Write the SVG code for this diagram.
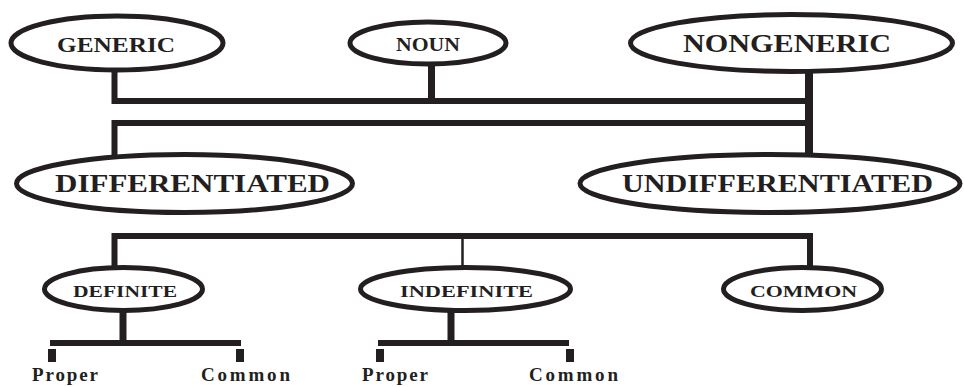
<svg xmlns="http://www.w3.org/2000/svg" width="964" height="387" viewBox="0 0 964 387">
<style>
.n{fill:#fff;stroke:#231f20;stroke-width:5}
.t{font-family:"Liberation Serif","Times New Roman",serif;font-weight:bold;fill:#231f20;text-anchor:middle}
.s{font-family:"Liberation Serif","Times New Roman",serif;font-weight:bold;fill:#231f20;font-size:19px}
.c{fill:none;stroke:#231f20;stroke-linejoin:miter;stroke-linecap:butt}
.k{fill:#231f20}
</style>
<rect width="964" height="387" fill="#fff"/>
<g id="connectors">
<path class="c" stroke-width="6" d="M114.5,70 V101 H809"/>
<path class="c" stroke-width="7" d="M431.5,64 V101"/>
<path class="c" stroke-width="8" d="M809,72 V155"/>
<path class="c" stroke-width="6" d="M809,123 H114.5 V155"/>
<path class="c" stroke-width="6" d="M114.5,268 V236 H810 V268"/>
<path class="c" stroke-width="2.5" d="M462.5,236 V268"/>
<path class="c" stroke-width="7" d="M123,311 V343"/>
<path class="c" stroke-width="6" d="M50,343 H241"/>
<rect class="k" x="48" y="349" width="8" height="13"/>
<rect class="k" x="236" y="349" width="8" height="13"/>
<path class="c" stroke-width="7" d="M451,311 V343"/>
<path class="c" stroke-width="6" d="M378,343 H569"/>
<rect class="k" x="376" y="349" width="8" height="13"/>
<rect class="k" x="566" y="349" width="8" height="13"/>
</g>
<g id="generic"><ellipse class="n" cx="117" cy="43" rx="106" ry="27"/><text class="t" x="116" y="52" font-size="22" textLength="118" lengthAdjust="spacingAndGlyphs">GENERIC</text></g>
<g id="noun"><ellipse class="n" cx="428" cy="43" rx="78" ry="21"/><text class="t" x="428" y="51" font-size="19" textLength="64" lengthAdjust="spacingAndGlyphs">NOUN</text></g>
<g id="nongeneric"><ellipse class="n" cx="791.5" cy="43" rx="161" ry="28.5"/><text class="t" x="787" y="52" font-size="26" textLength="208" lengthAdjust="spacingAndGlyphs">NONGENERIC</text></g>
<g id="differentiated"><ellipse class="n" cx="184.5" cy="183.5" rx="168" ry="29"/><text class="t" x="192.5" y="192" font-size="26" textLength="275" lengthAdjust="spacingAndGlyphs">DIFFERENTIATED</text></g>
<g id="undifferentiated"><ellipse class="n" cx="770" cy="183.5" rx="190" ry="29"/><text class="t" x="777.5" y="192" font-size="26" textLength="311" lengthAdjust="spacingAndGlyphs">UNDIFFERENTIATED</text></g>
<g id="definite"><ellipse class="n" cx="123.5" cy="289" rx="79" ry="21.5"/><text class="t" x="125" y="297" font-size="17" textLength="104" lengthAdjust="spacingAndGlyphs">DEFINITE</text></g>
<g id="indefinite"><ellipse class="n" cx="465.5" cy="289" rx="105" ry="21.5"/><text class="t" x="466.5" y="297" font-size="17" textLength="133" lengthAdjust="spacingAndGlyphs">INDEFINITE</text></g>
<g id="common"><ellipse class="n" cx="802.5" cy="289" rx="79" ry="21.5"/><text class="t" x="803.5" y="297" font-size="17" textLength="107" lengthAdjust="spacingAndGlyphs">COMMON</text></g>
<g id="proper1"><text class="s" x="32" y="381" textLength="66" lengthAdjust="spacing">Proper</text></g>
<g id="common1"><text class="s" x="201" y="381" textLength="89" lengthAdjust="spacing">Common</text></g>
<g id="proper2"><text class="s" x="362" y="381" textLength="66" lengthAdjust="spacing">Proper</text></g>
<g id="common2"><text class="s" x="529" y="381" textLength="89" lengthAdjust="spacing">Common</text></g>
</svg>
